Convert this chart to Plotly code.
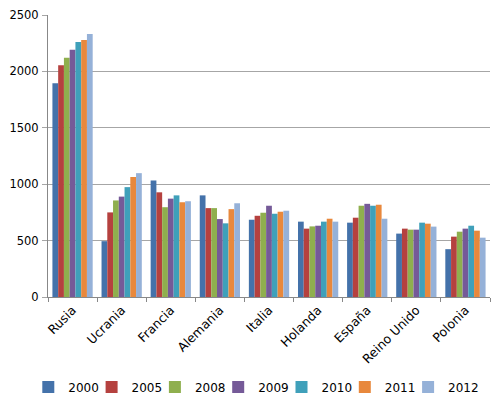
import plotly.graph_objects as go

countries = ["Rusia", "Ucrania", "Francia", "Alemania", "Italia", "Holanda", "España", "Reino Unido", "Polonia"]
years = ["2000", "2005", "2008", "2009", "2010", "2011", "2012"]

v2000 = [1896, 495, 1033, 901, 685, 668, 659, 562, 424]
v2005 = [2054, 750, 928, 788, 720, 606, 703, 606, 535]
v2008 = [2121, 856, 796, 788, 747, 626, 809, 597, 579]
v2009 = [2191, 890, 872, 691, 809, 632, 826, 597, 606]
v2010 = [2261, 974, 901, 653, 738, 668, 809, 659, 632]
v2011 = [2279, 1064, 840, 779, 756, 694, 818, 650, 588]
v2012 = [2331, 1098, 849, 831, 765, 668, 694, 624, 526]

series = [v2000, v2005, v2008, v2009, v2010, v2011, v2012]
colors = ["#4472AA", "#B5413F", "#8FAF4E", "#755A98", "#3FA0BA", "#E8883C", "#95B1D8"]

W, H = 492, 399  # page adds an 8px body margin

fig = go.Figure()
legend_layouts = {}
for i, (name, vals, col) in enumerate(zip(years, series, colors)):
    lg = "legend" if i == 0 else f"legend{i + 1}"
    fig.add_trace(go.Bar(x=countries, y=vals, name=name, legend=lg,
                         marker=dict(color=col, line=dict(width=0))))
    legend_layouts[lg] = dict(
        orientation="h", xref="container", x=(20.3 + 63.3 * i) / W, xanchor="left",
        yref="container", y=0.050, yanchor="middle",
        font=dict(size=12), itemwidth=30, bgcolor="rgba(0,0,0,0)",
    )

fig.update_layout(
    width=W, height=H,
    margin=dict(l=40, r=10, t=7, b=110, autoexpand=False),
    paper_bgcolor="white", plot_bgcolor="white",
    font=dict(family="DejaVu Sans", size=12, color="#000000"),
    barmode="group", bargap=0.18, bargroupgap=0,
    showlegend=True,
    **legend_layouts,
)
fig.update_xaxes(
    type="category", tickangle=-45, showline=True, linecolor="#888888", linewidth=1,
    ticks="outside", tickson="boundaries", ticklen=4, tickcolor="#888888",
    showgrid=False, automargin=False, tickfont=dict(size=12.5),
)
fig.update_yaxes(
    range=[0, 2500], dtick=500, showgrid=True, gridcolor="#A6A6A6", gridwidth=1,
    showline=True, linecolor="#888888", linewidth=1, ticks="outside", ticklen=5,
    tickcolor="#A6A6A6", zeroline=False, automargin=False, ticklabelstandoff=1,
    ticklabeloverflow="allow", tickfont=dict(size=11.5),
)

fig.write_html("out.html")
